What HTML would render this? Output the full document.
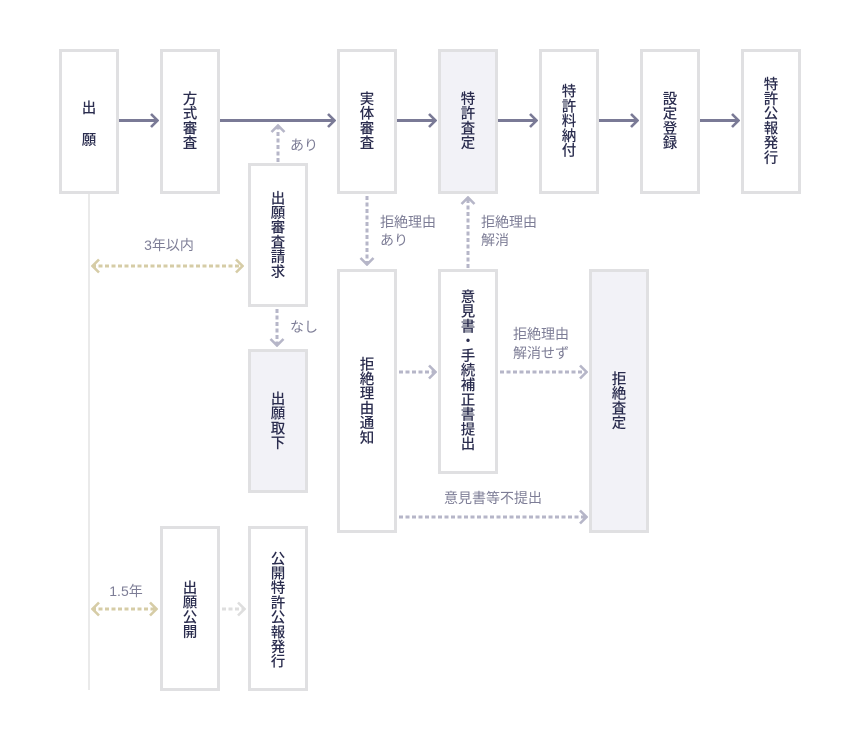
<!DOCTYPE html>
<html><head><meta charset="utf-8"><style>
html,body{margin:0;padding:0;background:#fff;}
svg{display:block;}
.bt{font-family:"Noto Sans CJK JP","Liberation Sans",sans-serif;font-size:14.5px;font-weight:500;fill:#2a2c4e;text-anchor:middle;}
.lb{font-family:"Liberation Sans","Noto Sans CJK JP",sans-serif;font-size:14px;fill:#7d7d96;}
</style></head><body>
<svg width="860" height="740" viewBox="0 0 860 740" xmlns="http://www.w3.org/2000/svg">
<defs>
<marker id="ms" viewBox="0 0 10 16" refX="9" refY="8" markerWidth="10" markerHeight="16" markerUnits="userSpaceOnUse" orient="auto">
<path d="M2,1.5 L8.5,8 L2,14.5" fill="none" stroke="#7a7a96" stroke-width="2.6"/></marker>
<marker id="md" viewBox="0 0 10 16" refX="9" refY="8" markerWidth="10" markerHeight="16" markerUnits="userSpaceOnUse" orient="auto">
<path d="M2,1.5 L8.5,8 L2,14.5" fill="none" stroke="#b6b6c8" stroke-width="2.6"/></marker>
<marker id="mt" viewBox="0 0 10 16" refX="9" refY="8" markerWidth="10" markerHeight="16" markerUnits="userSpaceOnUse" orient="auto">
<path d="M2,1.5 L8.5,8 L2,14.5" fill="none" stroke="#d6cca6" stroke-width="2.6"/></marker>
<marker id="mts" viewBox="0 0 10 16" refX="9" refY="8" markerWidth="10" markerHeight="16" markerUnits="userSpaceOnUse" orient="auto-start-reverse">
<path d="M2,1.5 L8.5,8 L2,14.5" fill="none" stroke="#d6cca6" stroke-width="2.6"/></marker>
<marker id="mg" viewBox="0 0 10 16" refX="9" refY="8" markerWidth="10" markerHeight="16" markerUnits="userSpaceOnUse" orient="auto">
<path d="M2,1.5 L8.5,8 L2,14.5" fill="none" stroke="#dedede" stroke-width="2.6"/></marker>
</defs>

<line x1="89" y1="194" x2="89" y2="690" stroke="#e4e4e4" stroke-width="1.5"/>

<g stroke="#e0e0e2" stroke-width="3" fill="#fff">
<rect x="60.5" y="50.5" width="57" height="142"/>
<rect x="161.5" y="50.5" width="57" height="142"/>
<rect x="338.5" y="50.5" width="57" height="142"/>
<rect x="439.5" y="50.5" width="57" height="142" fill="#f2f2f7"/>
<rect x="540.5" y="50.5" width="57" height="142"/>
<rect x="641.5" y="50.5" width="57" height="142"/>
<rect x="742.5" y="50.5" width="57" height="142"/>
<rect x="249.5" y="164.5" width="57" height="141"/>
<rect x="249.5" y="350.5" width="57" height="141" fill="#f2f2f7"/>
<rect x="338.5" y="270.5" width="57" height="261"/>
<rect x="439.5" y="270.5" width="57" height="202"/>
<rect x="590.5" y="270.5" width="57" height="261" fill="#f2f2f7"/>
<rect x="161.5" y="527.5" width="57" height="162"/>
<rect x="249.5" y="527.5" width="57" height="162"/>
</g>

<g stroke="#7a7a96" stroke-width="3" fill="none">
<line x1="119" y1="120.5" x2="158" y2="120.5" marker-end="url(#ms)"/>
<line x1="220" y1="120.5" x2="335" y2="120.5" marker-end="url(#ms)"/>
<line x1="397" y1="120.5" x2="436" y2="120.5" marker-end="url(#ms)"/>
<line x1="498" y1="120.5" x2="537" y2="120.5" marker-end="url(#ms)"/>
<line x1="599" y1="120.5" x2="638" y2="120.5" marker-end="url(#ms)"/>
<line x1="700" y1="120.5" x2="739" y2="120.5" marker-end="url(#ms)"/>
</g>

<g stroke="#b6b6c8" stroke-width="3" fill="none" stroke-dasharray="4 2.5">
<line x1="278" y1="162" x2="278" y2="125" marker-end="url(#md)"/>
<line x1="277" y1="309" x2="277" y2="346" marker-end="url(#md)"/>
<line x1="367" y1="196" x2="367" y2="265" marker-end="url(#md)"/>
<line x1="468" y1="268" x2="468" y2="197" marker-end="url(#md)"/>
<line x1="399" y1="372" x2="436" y2="372" marker-end="url(#md)"/>
<line x1="500" y1="372" x2="587" y2="372" marker-end="url(#md)"/>
<line x1="399" y1="517" x2="587" y2="517" marker-end="url(#md)"/>
</g>
<g stroke="#d6cca6" stroke-width="3" fill="none" stroke-dasharray="4 2.5">
<line x1="92" y1="266" x2="243" y2="266" marker-start="url(#mts)" marker-end="url(#mt)"/>
<line x1="92" y1="609" x2="157" y2="609" marker-start="url(#mts)" marker-end="url(#mt)"/>
</g>
<line x1="222" y1="609" x2="245" y2="609" stroke="#dedede" stroke-width="3" stroke-dasharray="4 2.5" marker-end="url(#mg)"/>

<g class="bt">
<text x="89" y="113">出</text>
<text x="89" y="145">願</text>

<text x="190" y="104">方</text><text x="190" y="118.7">式</text><text x="190" y="133.4">審</text><text x="190" y="148.1">査</text>
<text x="367" y="104">実</text><text x="367" y="118.7">体</text><text x="367" y="133.4">審</text><text x="367" y="148.1">査</text>
<text x="468" y="104">特</text><text x="468" y="118.7">許</text><text x="468" y="133.4">査</text><text x="468" y="148.1">定</text>
<text x="569" y="96.7">特</text><text x="569" y="111.4">許</text><text x="569" y="126.1">料</text><text x="569" y="140.8">納</text><text x="569" y="155.5">付</text>
<text x="670" y="104">設</text><text x="670" y="118.7">定</text><text x="670" y="133.4">登</text><text x="670" y="148.1">録</text>
<text x="771" y="89.3">特</text><text x="771" y="104">許</text><text x="771" y="118.7">公</text><text x="771" y="133.4">報</text><text x="771" y="148.1">発</text><text x="771" y="162.8">行</text>

<text x="278" y="203.3">出</text><text x="278" y="218">願</text><text x="278" y="232.7">審</text><text x="278" y="247.4">査</text><text x="278" y="262.1">請</text><text x="278" y="276.8">求</text>

<text x="278" y="404">出</text><text x="278" y="418.7">願</text><text x="278" y="433.4">取</text><text x="278" y="448.1">下</text>

<text x="367" y="369.3">拒</text><text x="367" y="384">絶</text><text x="367" y="398.7">理</text><text x="367" y="413.4">由</text><text x="367" y="428.1">通</text><text x="367" y="442.8">知</text>

<text x="468" y="302">意</text><text x="468" y="316.7">見</text><text x="468" y="331.4">書</text><text x="468" y="346.1">・</text><text x="468" y="360.8">手</text><text x="468" y="375.5">続</text><text x="468" y="390.2">補</text><text x="468" y="404.9">正</text><text x="468" y="419.6">書</text><text x="468" y="434.3">提</text><text x="468" y="449">出</text>

<text x="619" y="384">拒</text><text x="619" y="398.7">絶</text><text x="619" y="413.4">査</text><text x="619" y="428.1">定</text>

<text x="190" y="593">出</text><text x="190" y="607.7">願</text><text x="190" y="622.4">公</text><text x="190" y="637.1">開</text>

<text x="278" y="563.8">公</text><text x="278" y="578.5">開</text><text x="278" y="593.2">特</text><text x="278" y="607.9">許</text><text x="278" y="622.6">公</text><text x="278" y="637.3">報</text><text x="278" y="652">発</text><text x="278" y="666.7">行</text>
</g>

<g class="lb">
<text x="290" y="150">あり</text>
<text x="169" y="250" text-anchor="middle">3年以内</text>
<text x="290" y="332">なし</text>
<text x="380" y="227">拒絶理由</text>
<text x="380" y="245">あり</text>
<text x="481" y="227">拒絶理由</text>
<text x="481" y="245">解消</text>
<text x="513" y="339">拒絶理由</text>
<text x="513" y="358">解消せず</text>
<text x="493" y="503" text-anchor="middle">意見書等不提出</text>
<text x="126" y="596" text-anchor="middle">1.5年</text>
</g>
</svg>
</body></html>
